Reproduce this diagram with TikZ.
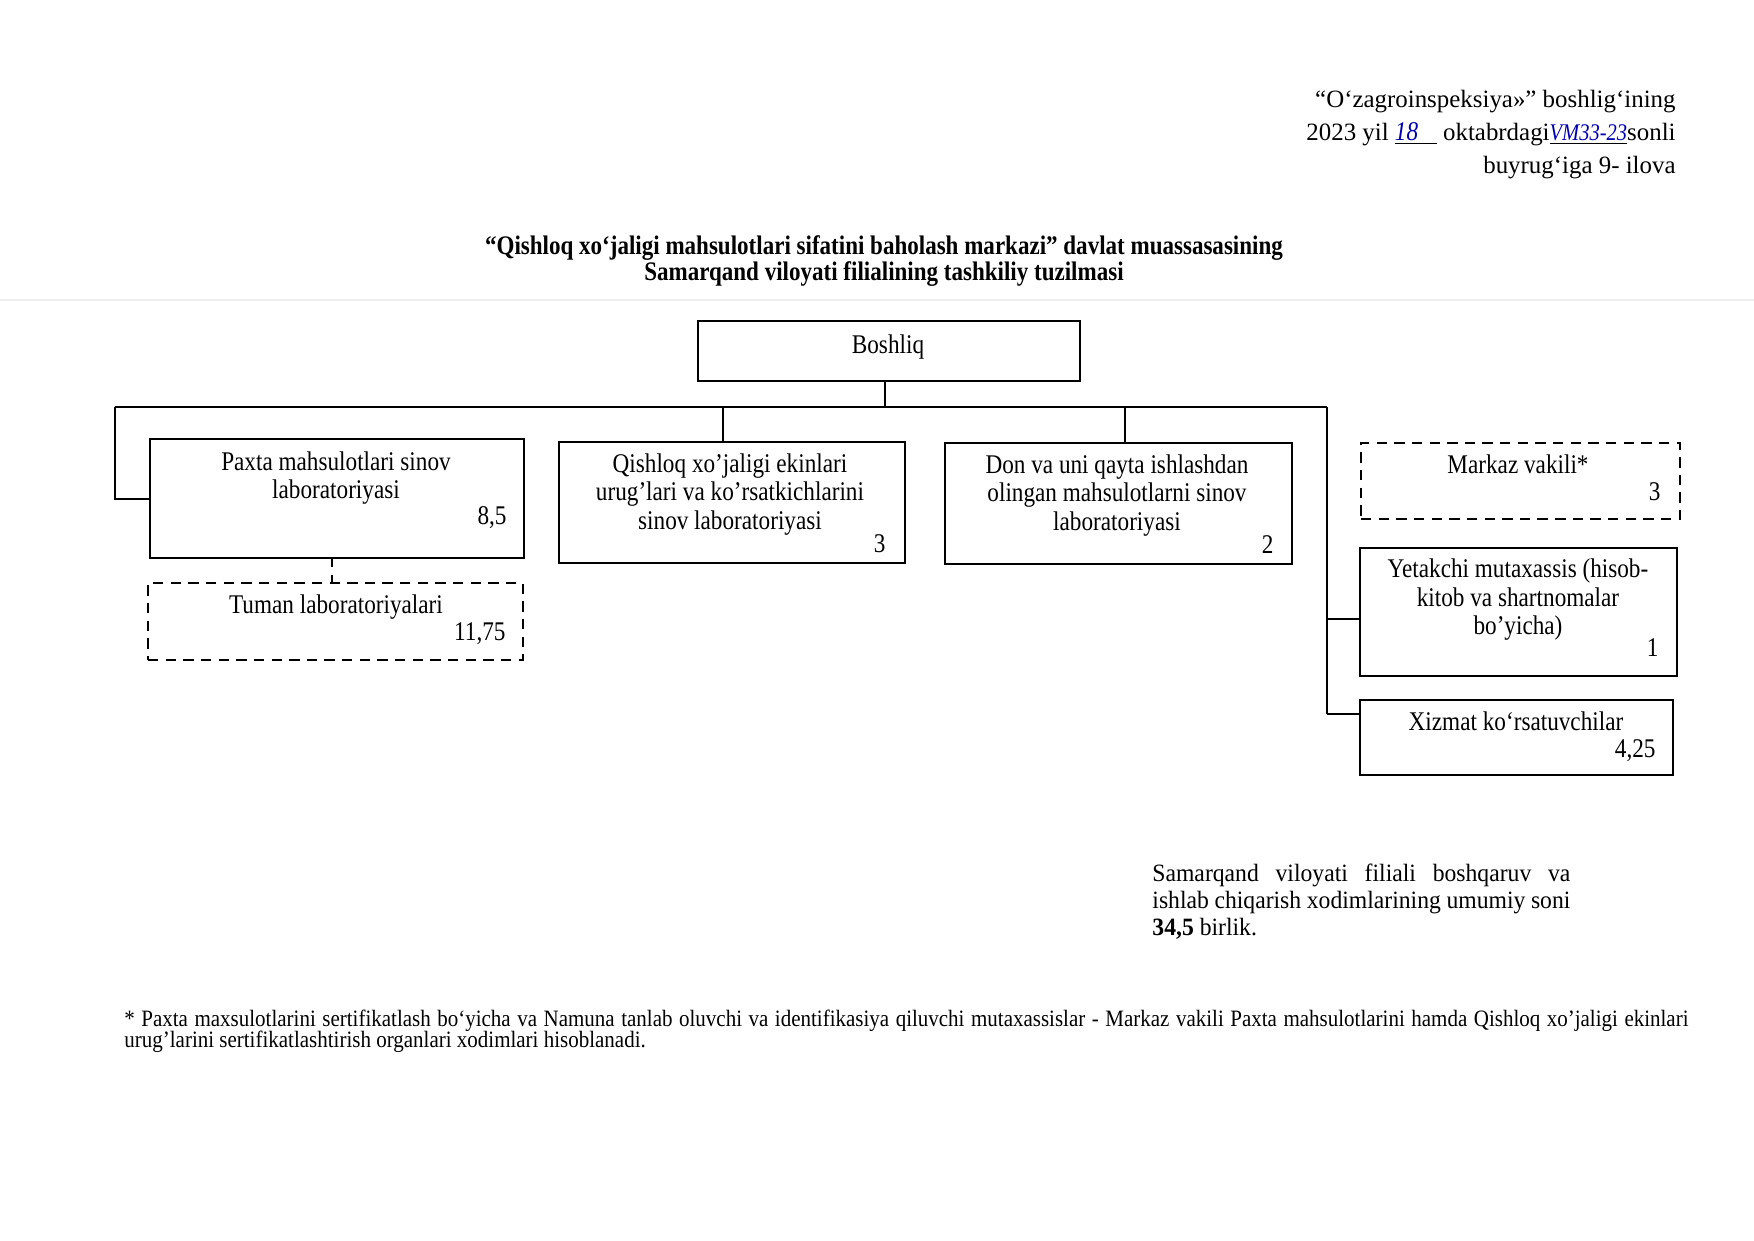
\documentclass[tikz,border=0pt]{standalone}
\usepackage{fontspec}
\setmainfont{Liberation Serif}
\newfontfamily\cond[FakeStretch=0.86]{Liberation Serif}
\newfontfamily\condf[FakeStretch=0.895]{Liberation Serif}
\newfontfamily\semi[FakeStretch=0.95]{Liberation Serif}
\newlength\pxu
\setlength\pxu{0.16933mm}
\begin{document}
\begin{tikzpicture}[x=0.16933mm, y=-0.16933mm,
  box/.style={draw, line width=1pt, inner sep=0, anchor=north west},
  dbox/.style={box, dash pattern=on 5pt off 3.5pt},
  conn/.style={line width=1pt},
  dconn/.style={line width=1pt, dash pattern=on 5pt off 3.5pt},
  boxtxt/.style={font=\cond\fontsize{13}{13.9}\selectfont, align=center, inner sep=0, anchor=north},
  numtxt/.style={font=\cond\fontsize{13}{13.9}\selectfont, inner sep=0, anchor=east}]
\useasboundingbox (0,0) rectangle (1754,1240);
\fill[white] (0,0) rectangle (1754,1240);

% header
\node[font=\fontsize{12}{15.8}\selectfont, align=right, inner sep=0, anchor=north east] (hdr) at (1676,90)
 {“O‘zagroinspeksiya»” boshlig‘ining\\
  2023 yil \underline{{\color{blue!70!black}\cond\itshape\fontsize{13}{13}\selectfont 18}\ \ \ } oktabrdagi\underline{\color{blue!70!black}\cond\itshape\fontsize{11.5}{12}\selectfont VM33-23}sonli\\
  buyrug‘iga 9- ilova};

% title
\node[font=\cond\bfseries\fontsize{12.9}{12.5}\selectfont, align=center, inner sep=0, anchor=north] (title) at (884,235)
 {“Qishloq xo‘jaligi mahsulotlari sifatini baholash markazi” davlat muassasasining\\
  Samarqand viloyati filialining tashkiliy tuzilmasi};

\draw[black!7, line width=0.6pt] (0,300) -- (1754,300);

% boxes
\node[box, minimum width=382\pxu, minimum height=60\pxu] (boss) at (697,320) {};
\node[box, minimum width=374\pxu, minimum height=119\pxu] (paxta) at (149,438) {};
\node[dbox, minimum width=375\pxu, minimum height=77\pxu] (tuman) at (147,582) {};
\node[box, minimum width=346\pxu, minimum height=121\pxu] (qish) at (558,441) {};
\node[box, minimum width=347\pxu, minimum height=121\pxu] (don) at (944,442) {};
\node[dbox, minimum width=319\pxu, minimum height=76\pxu] (markaz) at (1360,442) {};
\node[box, minimum width=317\pxu, minimum height=128\pxu] (yet) at (1359,547) {};
\node[box, minimum width=313\pxu, minimum height=75\pxu] (xiz) at (1359,699) {};

% texts
\node[boxtxt] (tboss) at (888,334) {Boshliq};
\node[boxtxt] (tpaxta) at (336,451) {Paxta mahsulotlari sinov\\laboratoriyasi};
\node[numtxt] (npaxta) at (507,518) {8,5};
\node[boxtxt] (ttuman) at (336,594) {Tuman laboratoriyalari};
\node[numtxt] (ntuman) at (506,634) {11,75};
\node[boxtxt] (tqish) at (730,453) {Qishloq xo’jaligi ekinlari\\urug’lari va ko’rsatkichlarini\\sinov laboratoriyasi};
\node[numtxt] (nqish) at (886,544) {3};
\node[boxtxt] (tdon) at (1117,454) {Don va uni qayta ishlashdan\\olingan mahsulotlarni sinov\\laboratoriyasi};
\node[numtxt] (ndon) at (1274,545) {2};
\node[boxtxt] (tmarkaz) at (1518,454) {Markaz vakili*};
\node[numtxt] (nmarkaz) at (1661,492) {3};
\node[boxtxt] (tyet) at (1518,558) {Yetakchi mutaxassis (hisob-\\kitob va shartnomalar\\bo’yicha)};
\node[numtxt] (nyet) at (1659,648) {1};
\node[boxtxt] (txiz) at (1516,711) {Xizmat ko‘rsatuvchilar};
\node[numtxt] (nxiz) at (1656,751) {4,25};

% connectors
\coordinate (busL) at (115,407);
\coordinate (busR) at (1327,407);
\coordinate (cq) at (723,407);
\coordinate (cd) at (1125,407);
\coordinate (cb) at (885,407);
\coordinate (cy) at (1327,619);
\coordinate (cx) at (1327,714);
\coordinate (cp) at (332,557);
\draw[conn] (busL) -- (busR);
\draw[conn] (cb |- boss.south) -- (cb);
\draw[conn] (busL) |- (paxta.west);
\draw[conn] (cq) -- (cq |- qish.north);
\draw[conn] (cd) -- (cd |- don.north);
\draw[conn] (busR) -- (cx);
\draw[conn] (cy) -- (cy -| yet.west);
\draw[conn] (cx) -- (cx -| xiz.west);
\draw[dconn] (cp) -- (cp |- tuman.north);

% summary
\node[font=\semi\fontsize{12}{13}\selectfont, align=left, inner sep=0, anchor=north west] (summ) at (1152,864)
 {\makebox[418\pxu][s]{Samarqand viloyati filiali boshqaruv va}\\
  \makebox[418\pxu][s]{ishlab chiqarish xodimlarining umumiy soni}\\
  \textbf{34,5} birlik.};

% footnote
\node[font=\condf\fontsize{11.3}{9.9}\selectfont, inner sep=0, anchor=north west] (foot) at (124,1010)
 {\parbox{1564\pxu}{\lineskiplimit=-6pt * Paxta maxsulotlarini sertifikatlash bo‘yicha va Namuna tanlab oluvchi va identifikasiya qiluvchi mutaxassislar - Markaz vakili Paxta mahsulotlarini hamda Qishloq xo’jaligi ekinlari\linebreak urug’larini sertifikatlashtirish organlari xodimlari hisoblanadi.}};
\end{tikzpicture}
\end{document}
